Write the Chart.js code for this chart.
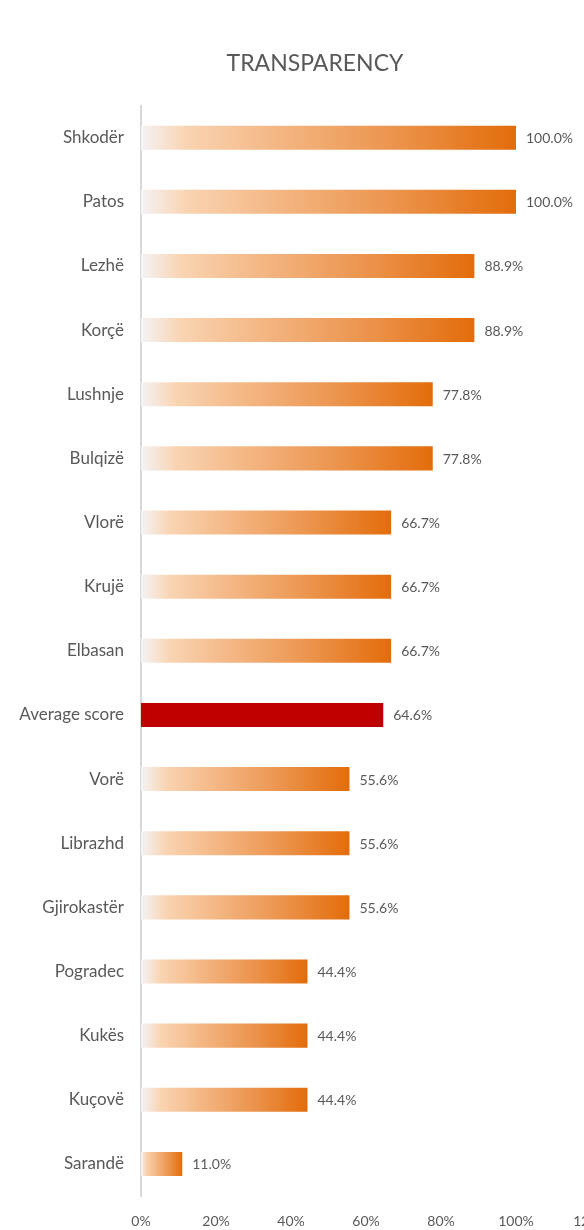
<!DOCTYPE html>
<html>
<head>
<meta charset="utf-8">
<script src="https://cdn.jsdelivr.net/npm/chart.js@4/dist/chart.umd.min.js"></script>
<style>
  html, body { margin: 0; padding: 0; background: #fff; overflow: hidden; }
  #wrap { position: relative; width: 630px; height: 1230px; }
</style>
</head>
<body>
<div id="wrap"><canvas id="chart"></canvas></div>
<script>
// Municipalities ranked by transparency score (%)
const municipalities = [
  'Shkodër', 'Patos', 'Lezhë', 'Korçë', 'Lushnje', 'Bulqizë', 'Vlorë', 'Krujë',
  'Elbasan', 'Average score', 'Vorë', 'Librazhd', 'Gjirokastër', 'Pogradec',
  'Kukës', 'Kuçovë', 'Sarandë'
];
const scores = [
  100.0, 100.0, 88.9, 88.9, 77.8, 77.8, 66.7, 66.7,
  66.7, 64.6, 55.6, 55.6, 55.6, 44.4, 44.4, 44.4, 11.0
];
const averageLabel = 'Average score';
const xTickValues = [0, 20, 40, 60, 80, 100, 120];

const TEXT = '#595959';
const FONT = 'Lato, "Open Sans", sans-serif';

// Each bar fades from near-white at the base to deep orange at its tip
function barFill(ctx) {
  const chart = ctx.chart;
  const label = municipalities[ctx.dataIndex];
  if (label === averageLabel) return '#c00000';
  const xs = chart.scales.x;
  if (!xs || !chart.chartArea) return '#e36c0a';
  const x0 = xs.getPixelForValue(0);
  const x1 = xs.getPixelForValue(ctx.raw);
  if (!isFinite(x0) || !isFinite(x1) || x1 <= x0) return '#e36c0a';
  const g = chart.ctx.createLinearGradient(x0, 0, x1, 0);
  g.addColorStop(0.00, '#f4f3f6');
  g.addColorStop(0.12, '#f9d4b2');
  g.addColorStop(0.35, '#f4b886');
  g.addColorStop(0.70, '#eb9148');
  g.addColorStop(1.00, '#e36c0a');
  return g;
}

// Percentage labels to the right of each bar
const valueLabels = {
  id: 'valueLabels',
  afterDatasetsDraw(chart) {
    const c = chart.ctx;
    const meta = chart.getDatasetMeta(0);
    c.save();
    c.font = '14px ' + FONT;
    c.fillStyle = TEXT;
    c.textAlign = 'left';
    c.textBaseline = 'middle';
    meta.data.forEach((bar, i) => {
      c.fillText(scores[i].toFixed(1) + '%', bar.x + 10, bar.y + 1);
    });
    c.restore();
  }
};

new Chart(document.getElementById('chart'), {
  type: 'bar',
  data: {
    labels: municipalities,
    datasets: [{
      data: scores,
      backgroundColor: barFill,
      borderWidth: 0,
      categoryPercentage: 0.75,
      barPercentage: 0.5
    }]
  },
  options: {
    indexAxis: 'y',
    responsive: true,
    maintainAspectRatio: false,
    animation: false,
    layout: { padding: 0 },
    plugins: {
      legend: { display: false },
      tooltip: { enabled: false },
      title: {
        display: true,
        text: 'TRANSPARENCY',
        color: TEXT,
        font: { family: FONT, size: 23, weight: 'normal' },
        padding: { top: 50, bottom: 28 }
      }
    },
    scales: {
      x: {
        min: 0,
        max: 120,
        afterBuildTicks(scale) {
          scale.ticks = xTickValues.map(v => ({ value: v }));
        },
        afterFit(scale) {
          scale.height = 34;
          scale.paddingRight = 39;
        },
        grid: { display: false },
        border: { display: false },
        ticks: {
          color: TEXT,
          padding: 9,
          font: { family: FONT, size: 14 },
          callback: v => v + '%'
        }
      },
      y: {
        afterFit(scale) { scale.width = 141; },
        grid: { display: false },
        border: { display: true, color: '#d9d9d9', width: 2 },
        ticks: {
          color: TEXT,
          padding: 9,
          font: { family: FONT, size: 17 }
        }
      }
    }
  },
  plugins: [valueLabels]
});
</script>
</body>
</html>
